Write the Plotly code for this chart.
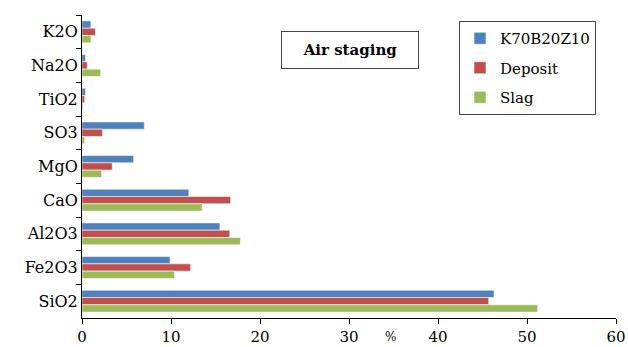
import plotly.graph_objects as go

categories = ["K2O", "Na2O", "TiO2", "SO3", "MgO", "CaO", "Al2O3", "Fe2O3", "SiO2"]
k70 = [1.0, 0.4, 0.4, 7.0, 5.8, 12.0, 15.5, 9.9, 46.3]
deposit = [1.5, 0.6, 0.3, 2.3, 3.4, 16.7, 16.6, 12.2, 45.7]
slag = [1.0, 2.1, 0.1, 0.3, 2.2, 13.5, 17.8, 10.4, 51.2]
series_names = ["K70B20Z10", "Deposit", "Slag"]
colors = ["#4F81BD", "#C0504D", "#9BBB59"]
x_ticks = [0, 10, 20, 30, 40, 50, 60]

FONT = "DejaVu Serif"

fig = go.Figure()
for i, (name, vals) in enumerate(zip(series_names, [k70, deposit, slag])):
    fig.add_trace(go.Bar(
        y=categories, x=vals, name=name, orientation="h",
        marker=dict(color=colors[i], line=dict(color="rgba(255,255,255,0.8)", width=0.7)),
        legendgroup=name,
    ))

fig.update_layout(
    width=628, height=347,
    margin=dict(l=82, r=12, t=15, b=29),
    paper_bgcolor="white", plot_bgcolor="white",
    barmode="group", bargap=0.35, bargroupgap=0,
    font=dict(family=FONT, size=15, color="black"),
    showlegend=True,
    legend=dict(
        x=(459 - 82) / 534, y=(318 - 21) / 303, xanchor="left", yanchor="top",
        bordercolor="#444", borderwidth=1, bgcolor="white",
        font=dict(family=FONT, size=15),
        tracegroupgap=7, itemwidth=30,
    ),
    xaxis=dict(
        range=[0, 60], tickvals=x_ticks, showgrid=False, zeroline=False,
        showline=True, linecolor="black", linewidth=1,
        ticks="outside", ticklen=5, tickcolor="black",
        tickfont=dict(family=FONT, size=15), automargin=False,
    ),
    yaxis=dict(
        categoryorder="array", categoryarray=categories, autorange="reversed",
        showgrid=False, zeroline=False,
        showline=True, linecolor="black", linewidth=1,
        ticks="outside", ticklen=5, tickcolor="black", tickson="boundaries",
        tickfont=dict(family=FONT, size=16), automargin=False,
    ),
    annotations=[
        dict(text="<b>Air staging</b>", xref="paper", yref="paper",
             x=(350 - 82) / 534, y=(318 - 49.5) / 303, xanchor="center", yanchor="middle",
             showarrow=False, font=dict(family=FONT, size=15),
             bordercolor="#444", borderwidth=1, borderpad=9, bgcolor="white",
             width=118),
        dict(text="%", xref="paper", yref="paper",
             x=(390 - 82) / 534, y=-(347 - 318 - 1) / 303, xanchor="center", yanchor="bottom",
             showarrow=False, font=dict(family=FONT, size=12)),
    ],
)

fig.write_html("out.html")
